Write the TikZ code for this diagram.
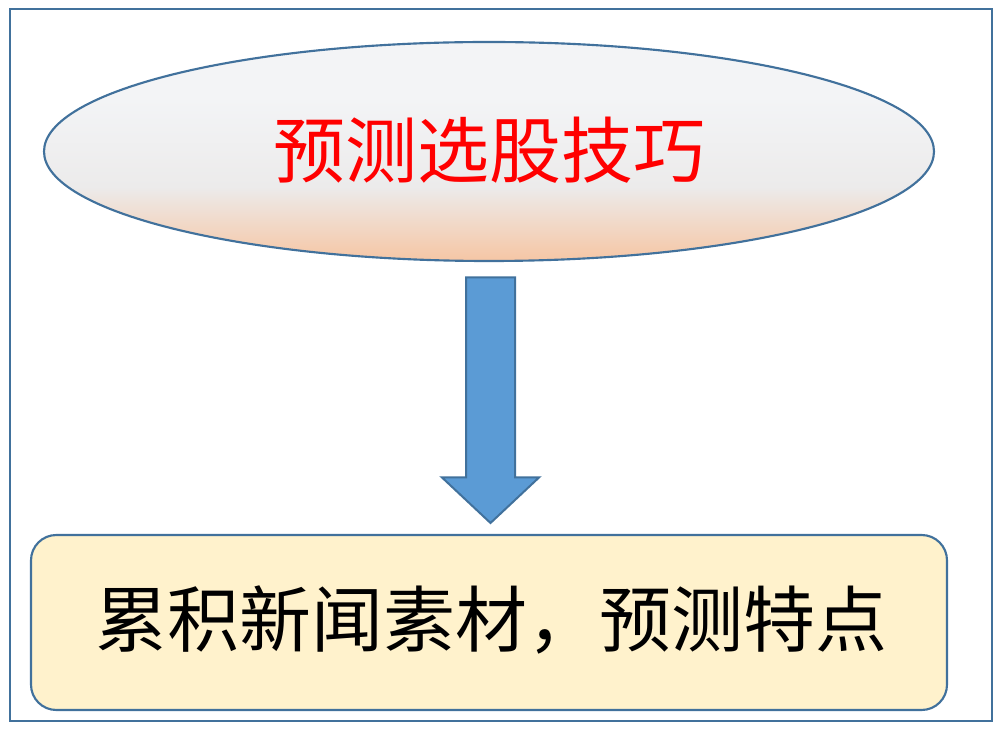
\documentclass[tikz,border=0pt]{standalone}
\usepackage{fontspec}
\newfontfamily\cjk{Noto Sans CJK SC}
\usetikzlibrary{shapes.geometric}
\definecolor{edgeblue}{HTML}{41719C}
\definecolor{arrowblue}{HTML}{5B9BD5}
\definecolor{boxfill}{HTML}{FFF2CC}
\definecolor{shtop}{HTML}{F3F4F6}
\definecolor{shmid}{HTML}{ECEBEB}
\definecolor{shbot}{HTML}{F6C6A4}
\pgfdeclareverticalshading{ellshade}{100bp}{color(0bp)=(shbot); color(25bp)=(shbot); color(42bp)=(shmid); color(62bp)=(shtop); color(75bp)=(shtop); color(100bp)=(shtop)}
\tikzset{
  frame/.style={draw=edgeblue, line width=2.2pt},
  titleell/.style={ellipse, draw=edgeblue, line width=1.6pt, shading=ellshade,
    minimum width=667.5pt, minimum height=164.25pt, inner sep=0pt},
  resultbox/.style={draw=edgeblue, line width=1.6pt, fill=boxfill,
    rounded corners=19pt, minimum width=687pt, minimum height=131.25pt, inner sep=0pt},
  bigtext/.style={font=\cjk\fontsize{54}{60}\selectfont},
  blockarrow/.style={draw=edgeblue, line width=1.5pt, fill=arrowblue, line join=miter}
}
\begin{document}
\begin{tikzpicture}[x=0.75pt, y=-0.75pt]
\useasboundingbox (0,0) rectangle (1000,730);
\draw[frame] (10,9) rectangle (992,721);
\node[titleell] (title) at (489,151.5) {};
\node[bigtext, text=red] (titletext) at (489,150) {预测选股技巧};
\node[resultbox] (result) at (489,622.5) {};
\node[bigtext, text=black] (resulttext) at (491,620) {累积新闻素材，预测特点};
\coordinate (as) at (490.5,277.5);
\coordinate (tip) at (490.5,523);
\draw[blockarrow] (466,277.5) -- (515,277.5) -- (515,477.5) -- (539,477.5) -- (tip) -- (442,477.5) -- (466,477.5) -- cycle;
\end{tikzpicture}
\end{document}
